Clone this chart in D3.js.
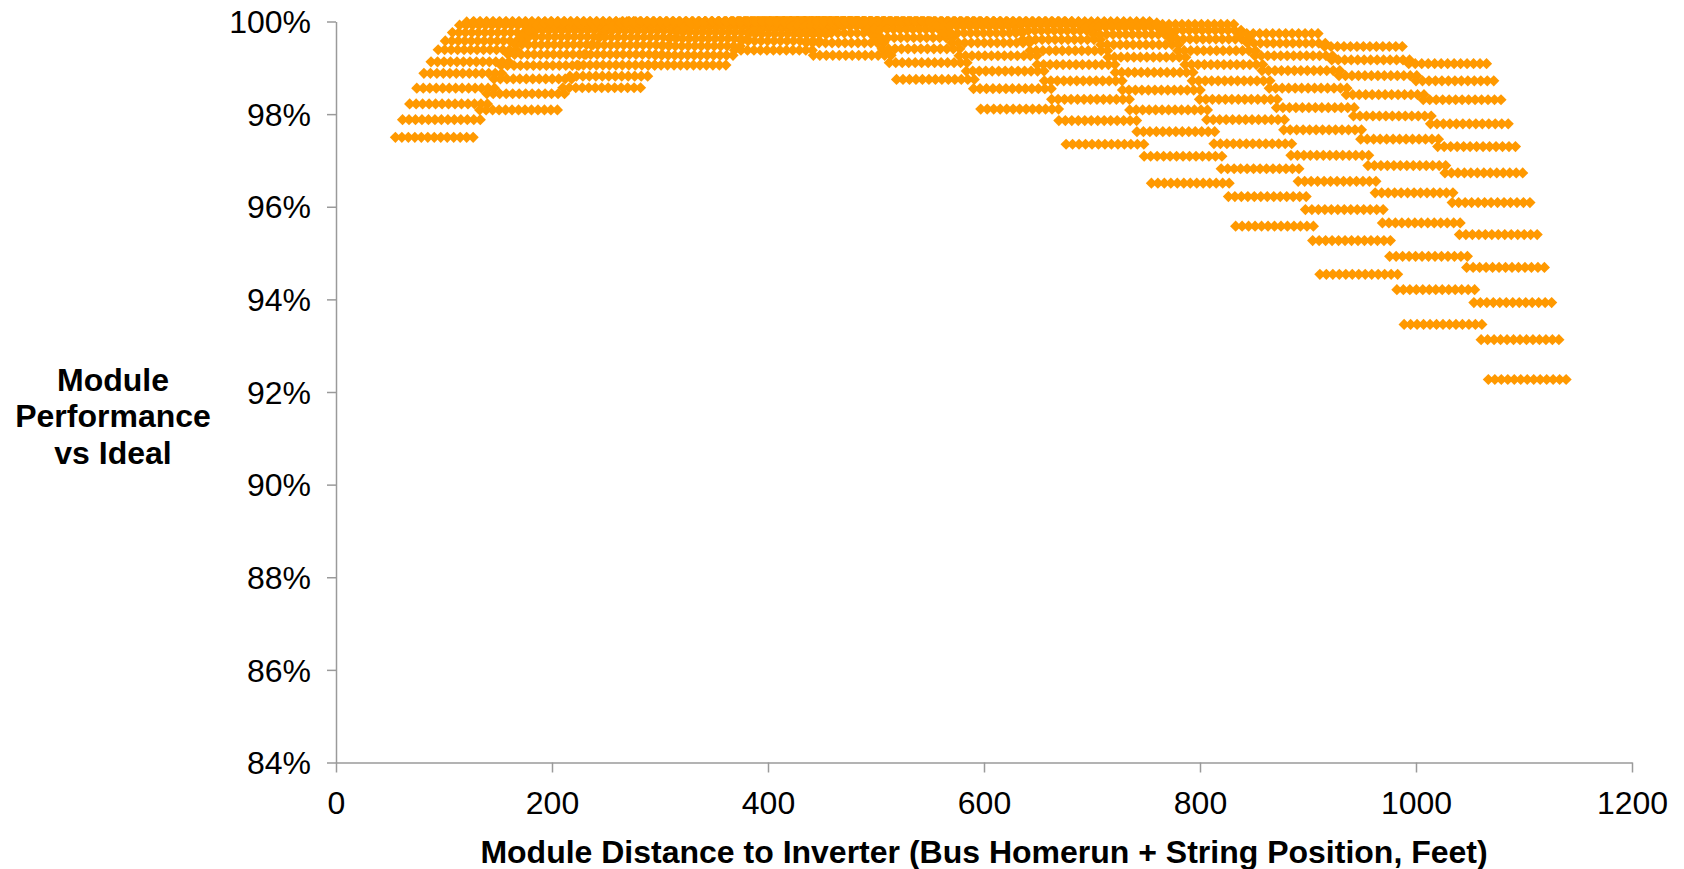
<!DOCTYPE html>
<html>
<head>
<meta charset="utf-8">
<script src="https://cdn.jsdelivr.net/npm/d3@7"></script>
<style>
  html, body { margin: 0; padding: 0; background: #fff; }
  svg { display: block; }
  text { font-family: "Liberation Sans", Arial, sans-serif; fill: #000; }
</style>
</head>
<body>
<svg id="chart" width="1684" height="869"></svg>
<script>
// ---- data (x in feet = bus homerun + string position, y = module performance vs ideal, %) ----
const xTicks = [0, 200, 400, 600, 800, 1000, 1200];
const yTicks = [84, 86, 88, 90, 92, 94, 96, 98, 100];

// offsets of the modules within one string (feet)
const modulePositions = [0, 6, 12, 18, 24, 30, 36, 42, 48, 54, 60, 66, 72];

// each bus: start distance of each string, and performance of that string (%)
const startsA = [55.0, 61.6, 68.2, 74.8, 81.4, 88.0, 94.6, 101.2, 107.8, 114.4, 121.0, 127.6];
const perfA   = [97.50, 97.88, 98.22, 98.56, 98.88, 99.13, 99.39, 99.58, 99.76, 99.92, 99.99, 100.00];
const startsB = [133.0, 139.6, 146.2, 152.8, 159.4, 166.0, 172.6, 179.2, 185.8, 192.4, 199.0, 205.6];
const perfB   = [98.09, 98.44, 98.76, 99.05, 99.29, 99.50, 99.67, 99.81, 99.91, 99.97, 100.00, 100.00];
const startsC = [210.0, 216.6, 223.2, 229.8, 236.4, 243.0, 249.6, 256.2, 262.8, 269.4, 276.0, 282.6];
const perfC   = [98.57, 98.82, 99.06, 99.29, 99.49, 99.66, 99.80, 99.90, 99.97, 100.00, 100.00, 100.00];
const startsD = [289.0, 295.6, 302.2, 308.8, 315.4, 322.0, 328.6, 335.2, 341.8, 348.4, 355.0, 361.6];
const perfD   = [99.06, 99.27, 99.47, 99.63, 99.77, 99.88, 99.95, 99.99, 100.00, 100.00, 100.00, 100.00];
const startsE = [369.0, 375.6, 382.2, 388.8, 395.4, 402.0, 408.6, 415.2, 421.8, 428.4, 435.0, 441.6];
const perfE   = [99.38, 99.58, 99.73, 99.84, 99.92, 99.97, 100.00, 100.00, 100.00, 100.00, 100.00, 100.00];
const startsF = [368.3, 375.0, 381.7, 388.4, 395.1, 401.8, 408.5, 415.2, 421.9, 428.6, 435.3, 442.0];
const perfF   = [100.00, 100.00, 100.00, 100.00, 100.00, 100.00, 100.00, 99.98, 99.90, 99.75, 99.54, 99.27];
const startsG = [445.3, 452.0, 458.7, 465.4, 472.1, 478.8, 485.5, 492.2, 498.9, 505.6, 512.3, 519.0];
const perfG   = [100.00, 100.00, 100.00, 100.00, 100.00, 100.00, 99.95, 99.83, 99.65, 99.41, 99.11, 98.75];
const startsH = [523.3, 530.0, 536.7, 543.4, 550.1, 556.8, 563.5, 570.2, 576.9, 583.6, 590.3, 597.0];
const perfH   = [100.00, 100.00, 100.00, 100.00, 99.98, 99.90, 99.75, 99.54, 99.26, 98.93, 98.55, 98.11];
const startsI = [602.3, 609.0, 615.7, 622.4, 629.1, 635.8, 642.5, 649.2, 655.9, 662.6, 669.3, 676.0];
const perfI   = [100.00, 100.00, 99.99, 99.93, 99.80, 99.61, 99.37, 99.07, 98.72, 98.32, 97.86, 97.35];
const startsJ = [681.3, 688.0, 694.7, 701.4, 708.1, 714.8, 721.5, 728.2, 734.9, 741.6, 748.3, 755.0];
const perfJ   = [100.00, 99.97, 99.88, 99.72, 99.50, 99.23, 98.90, 98.52, 98.09, 97.62, 97.09, 96.51];
const startsK = [759.3, 766.0, 772.7, 779.4, 786.1, 792.8, 799.5, 806.2, 812.9, 819.6, 826.3, 833.0];
const perfK   = [99.94, 99.81, 99.62, 99.37, 99.07, 98.72, 98.32, 97.88, 97.36, 96.82, 96.22, 95.58];
const startsL = [837.3, 844.0, 850.7, 857.4, 864.1, 870.8, 877.5, 884.2, 890.9, 897.6, 904.3, 911.0];
const perfL   = [99.74, 99.53, 99.26, 98.94, 98.56, 98.14, 97.66, 97.11, 96.55, 95.94, 95.27, 94.54];
const startsM = [915.3, 922.0, 928.7, 935.4, 942.1, 948.8, 955.5, 962.2, 968.9, 975.6, 982.3, 989.0];
const perfM   = [99.46, 99.17, 98.83, 98.42, 97.96, 97.46, 96.89, 96.30, 95.65, 94.93, 94.21, 93.46];
const startsN = [993.3, 1000.0, 1006.7, 1013.4, 1020.1, 1026.8, 1033.5, 1040.2, 1046.9, 1053.6, 1060.3, 1067.0];
const perfN   = [99.09, 98.72, 98.31, 97.79, 97.30, 96.73, 96.09, 95.40, 94.69, 93.93, 93.13, 92.27];

const buses = [
  [startsA, perfA], [startsB, perfB], [startsC, perfC], [startsD, perfD], [startsE, perfE],
  [startsF, perfF], [startsG, perfG], [startsH, perfH], [startsI, perfI], [startsJ, perfJ],
  [startsK, perfK], [startsL, perfL], [startsM, perfM], [startsN, perfN]
];

// ---- layout ----
const plot = { left: 336, right: 1632, top: 21.5, bottom: 762.5 };
const svg = d3.select("#chart");

const x = d3.scaleLinear().domain([0, 1200]).range([plot.left, plot.right]);
const y = d3.scaleLinear().domain([84, 100]).range([plot.bottom, plot.top]);

// points
const points = [];
buses.forEach(([starts, perf]) => {
  starts.forEach((s, i) => {
    modulePositions.forEach(p => points.push({ d: s + p, v: perf[i] }));
  });
});

// axes
const axisColor = "#9a9a9a";
const fontSize = 32;
const yAxis = svg.append("g")
  .attr("transform", `translate(${plot.left},0)`)
  .call(d3.axisLeft(y).tickValues(yTicks).tickFormat(d => d + "%").tickSize(9).tickSizeOuter(0).tickPadding(16));
const xAxis = svg.append("g")
  .attr("transform", `translate(0,${plot.bottom})`)
  .call(d3.axisBottom(x).tickValues(xTicks).tickFormat(d3.format("d")).tickSize(10).tickSizeOuter(0).tickPadding(19));

[yAxis, xAxis].forEach(g => {
  g.select(".domain").attr("stroke", axisColor).attr("stroke-width", 1.5);
  g.selectAll(".tick line").attr("stroke", axisColor).attr("stroke-width", 1.5);
  g.selectAll(".tick text").attr("font-size", fontSize).attr("fill", "#000")
    .style("font-family", "'Liberation Sans', Arial, sans-serif");
});
yAxis.selectAll(".tick text").attr("dy", "0.35em");

// markers
const r = 5.6;
const diamond = `M0,${-r}L${r},0L0,${r}L${-r},0Z`;
svg.append("g")
  .selectAll("path")
  .data(points)
  .join("path")
  .attr("d", diamond)
  .attr("transform", d => `translate(${x(d.d)},${y(d.v)})`)
  .attr("fill", "#FF9900");

// titles
const yTitle = svg.append("text")
  .attr("text-anchor", "middle")
  .attr("font-size", fontSize)
  .attr("font-weight", "bold");
["Module", "Performance", "vs Ideal"].forEach((t, i) => {
  yTitle.append("tspan").attr("x", 113).attr("y", 390.5 + i * 36.5).text(t);
});

svg.append("text")
  .attr("x", 984)
  .attr("y", 862.5)
  .attr("text-anchor", "middle")
  .attr("font-size", fontSize)
  .attr("font-weight", "bold")
  .text("Module Distance to Inverter (Bus Homerun + String Position, Feet)");
</script>
</body>
</html>
